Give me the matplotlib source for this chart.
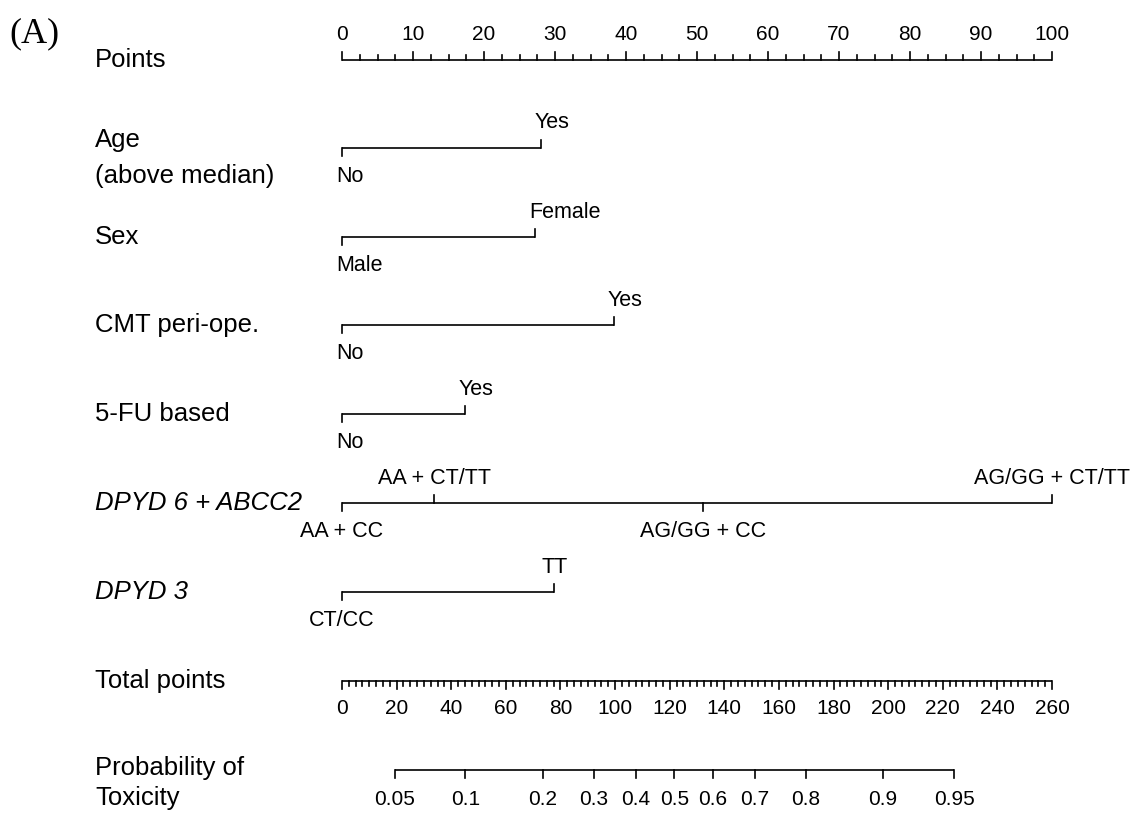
import numpy as np
import matplotlib
matplotlib.use("Agg")
import matplotlib.pyplot as plt

plt.rcParams['font.family'] = ['Liberation Sans', 'DejaVu Sans']

# ---- data ----
point_ticks = np.arange(0, 101, 10)
total_ticks = np.arange(0, 261, 20)
total_max = 260
prob_ticks = [0.05, 0.1, 0.2, 0.3, 0.4, 0.5, 0.6, 0.7, 0.8, 0.9, 0.95]

age_levels = ["No", "Yes"]
age_points = [0, 28.0]
sex_levels = ["Male", "Female"]
sex_points = [0, 27.2]
cmt_levels = ["No", "Yes"]
cmt_points = [0, 38.3]
fu_levels = ["No", "Yes"]
fu_points = [0, 17.3]
dpyd6_levels = ["AA + CC", "AA + CT/TT", "AG/GG + CC", "AG/GG + CT/TT"]
dpyd6_points = [0, 13.0, 50.8, 100]
dpyd3_levels = ["CT/CC", "TT"]
dpyd3_points = [0, 29.9]

# logistic link: linear predictor = intercept + slope * total points
intercept = -3.497
slope = 0.02874

# ---- layout (pixels) ----
W, H = 1131, 813
X0, X100 = 342, 1052          # pixel x of 0 and 100 points
NAME_X = 95
LW = 1.2
NAME_FS = 18.5
LEVEL_FS = 15.5
TICK_FS = 15


def px(x_pix):
    return (x_pix - X0) / (X100 - X0) * 100


def dpx(d):
    return d / (X100 - X0) * 100


def total_to_pts(t):
    return np.asarray(t) * 100 / total_max


fig = plt.figure(figsize=(W / 100, H / 100), dpi=100)
ax = fig.add_axes([0, 0, 1, 1])
ax.set_xlim(px(0), px(W))
ax.set_ylim(H, 0)
ax.axis('off')

tick_px = 8
minor_px = 4.5

ax.text(px(9), 34, "(A)", fontsize=26, family=['Liberation Serif', 'DejaVu Serif'],
        ha='left', va='center')

# Points axis
y = 60
ax.text(px(NAME_X), y, "Points", fontsize=NAME_FS, va='center', ha='left')
ax.plot([0, 100], [y, y], color='black', lw=LW, solid_capstyle='butt')
for v in np.arange(0, 100.01, 2.5):
    major = v in point_ticks
    ax.plot([v, v], [y, y - (tick_px if major else minor_px)], color='black', lw=LW)
for v in point_ticks:
    ax.text(v, y - 26, str(v), fontsize=TICK_FS, ha='center', va='center')

# variable rows: (name lines, levels, points, line y, italic, left-ish labels)
rows = [
    (["Age", "(above median)"], age_levels, age_points, 148, False, True),
    (["Sex"], sex_levels, sex_points, 237, False, True),
    (["CMT peri-ope."], cmt_levels, cmt_points, 325, False, True),
    (["5-FU based"], fu_levels, fu_points, 414, False, True),
    (["DPYD 6 + ABCC2"], dpyd6_levels, dpyd6_points, 503, True, False),
    (["DPYD 3"], dpyd3_levels, dpyd3_points, 592, True, False),
]

for names, levels, pts, y, italic, left in rows:
    style = 'italic' if italic else 'normal'
    if len(names) == 2:
        ax.text(px(NAME_X), y - 8, names[0], fontsize=NAME_FS, va='center', ha='left')
        ax.text(px(NAME_X), y + 28, names[1], fontsize=NAME_FS, va='center', ha='left')
    else:
        ax.text(px(NAME_X), y, names[0], fontsize=NAME_FS, va='center', ha='left',
                fontstyle=style)
    ax.plot([min(pts), max(pts)], [y, y], color='black', lw=LW, solid_capstyle='butt')
    for i, (lab, p) in enumerate(zip(levels, pts)):
        above = i % 2 == 1
        yt = y - tick_px if above else y + tick_px
        ax.plot([p, p], [y, yt], color='black', lw=LW)
        ylab = y - 25 if above else y + 28
        if left:
            ax.text(p - dpx(6), ylab, lab, fontsize=LEVEL_FS, ha='left', va='center')
        else:
            ax.text(p, ylab, lab, fontsize=LEVEL_FS, ha='center', va='center')

# Total points axis
y = 681
ax.text(px(NAME_X), y, "Total points", fontsize=NAME_FS, va='center', ha='left')
ax.plot([0, 100], [y, y], color='black', lw=LW, solid_capstyle='butt')
for v in np.arange(0, total_max + 0.01, 2.5):
    major = v in total_ticks
    xv = total_to_pts(v)
    ax.plot([xv, xv], [y, y + (tick_px if major else minor_px)], color='black', lw=LW)
for v in total_ticks:
    ax.text(total_to_pts(v), y + 27, str(v), fontsize=TICK_FS, ha='center', va='center')

# Probability axis
y = 770
ax.text(px(NAME_X), 768, "Probability of", fontsize=NAME_FS, va='center', ha='left')
ax.text(px(NAME_X), 798, "Toxicity", fontsize=NAME_FS, va='center', ha='left')
prob_ticks = np.array(prob_ticks)
prob_total = (np.log(prob_ticks / (1 - prob_ticks)) - intercept) / slope
prob_x = total_to_pts(prob_total)
ax.plot([prob_x[0], prob_x[-1]], [y, y], color='black', lw=LW, solid_capstyle='butt')
for xv, p in zip(prob_x, prob_ticks):
    ax.plot([xv, xv], [y, y + tick_px], color='black', lw=LW)
    ax.text(xv, y + 29, f"{p:g}", fontsize=TICK_FS, ha='center', va='center')

fig.savefig("out.png", dpi=100)
